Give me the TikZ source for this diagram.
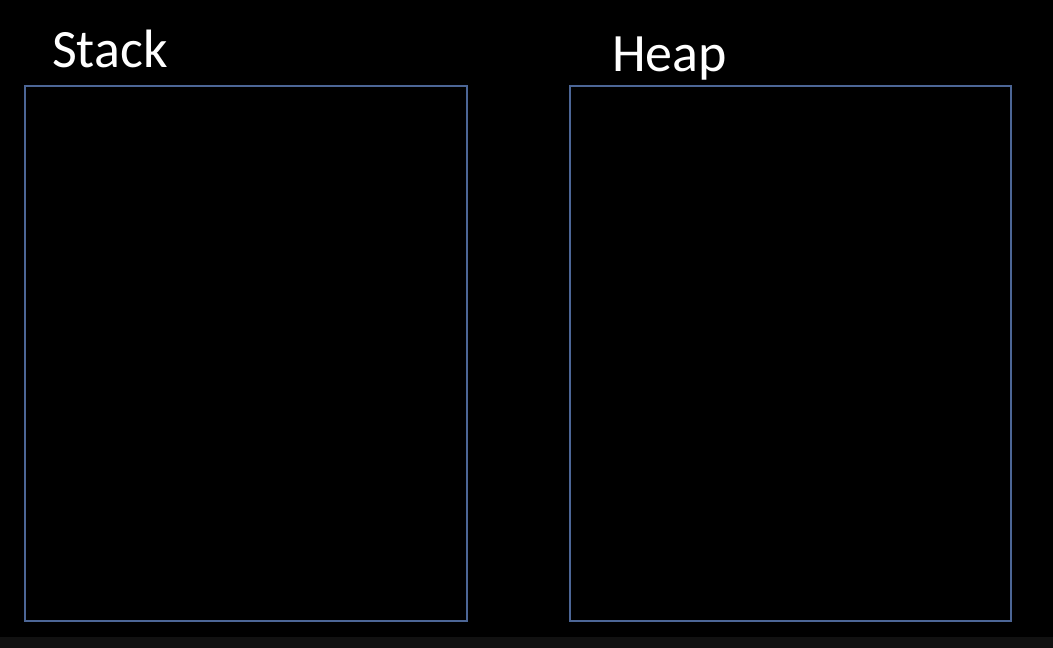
\documentclass[tikz,border=0pt]{standalone}
\usepackage{fontspec}
\setmainfont{Carlito}
\definecolor{boxblue}{RGB}{76,102,150}
\definecolor{strip}{RGB}{17,17,17}
\begin{document}
\begin{tikzpicture}[x=1pt,y=-1pt,
  membox/.style={draw=boxblue,line width=2pt},
  title/.style={text=white,font=\fontsize{54}{62}\selectfont,anchor=base west,inner sep=0pt}]
\useasboundingbox (0,0) rectangle (1053,648);
\fill[black] (0,0) rectangle (1053,637);
\fill[strip] (0,637) rectangle (1053,648);
\node[membox,minimum width=442pt,minimum height=535pt,anchor=north west,inner sep=0pt] (stack) at (23.5,84.5) {};
\node[membox,minimum width=441pt,minimum height=535pt,anchor=north west,inner sep=0pt] (heap) at (568.5,84.5) {};
\node[title] (stacklbl) at (52,67) {Stack};
\node[title] (heaplbl) at (612,71) {Heap};
\end{tikzpicture}
\end{document}
